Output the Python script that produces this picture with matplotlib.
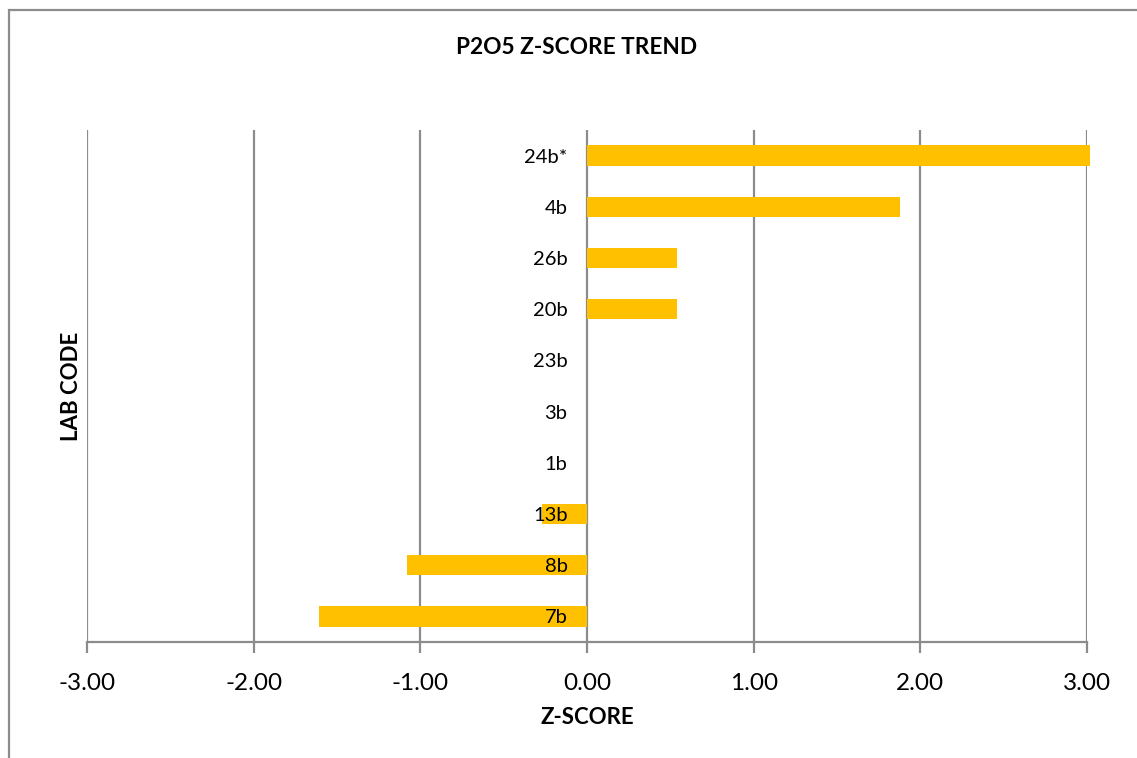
import matplotlib
matplotlib.use("Agg")
import matplotlib.pyplot as plt
from matplotlib.patches import Rectangle

labs = ["24b*", "4b", "26b", "20b", "23b", "3b", "1b", "13b", "8b", "7b"]
zscores = [3.02, 1.88, 0.54, 0.54, 0.0, 0.0, 0.0, -0.27, -1.08, -1.61]
xticks = [-3, -2, -1, 0, 1, 2, 3]

plt.rcParams['font.family'] = ['Lato', 'DejaVu Sans']

W, H = 1137, 758
fig = plt.figure(figsize=(W / 100, H / 100), dpi=100)
ax = fig.add_axes([87 / W, 1 - 642 / H, 1000 / W, 512 / H])

# outer chart border (cropped at right/bottom)
fig.patches.append(Rectangle((8.5 / W, -0.1), 1.2, 1 - 10.5 / H + 0.1,
                             transform=fig.transFigure, fill=False,
                             edgecolor='#8c8c8c', linewidth=1.6))

n = len(labs)
ypos = list(range(n))[::-1]
bars = ax.barh(ypos, zscores, height=0.4, color='#FFC000', zorder=2)
for b in bars:
    b.set_clip_on(False)

ax.set_xlim(-3, 3)
ax.set_ylim(-0.5, n - 0.5)
ax.set_xticks(xticks)
ax.set_xticklabels([f"{v:.2f}" for v in xticks])
ax.grid(axis='x', color='#8c8c8c', linewidth=1.6)
ax.tick_params(axis='x', length=8, width=1.6, color='#8c8c8c', pad=14,
               labelsize=17.5)
ax.xaxis.set_zorder(0.5)

ax.set_yticks(ypos)
ax.set_yticklabels(labs)
ax.spines['left'].set_position(('data', 0))
ax.spines['left'].set_visible(False)
ax.tick_params(axis='y', length=0, pad=14, labelsize=14.5)
ax.yaxis.set_zorder(4)

for s in ['top', 'right']:
    ax.spines[s].set_visible(False)
ax.spines['bottom'].set_color('#8c8c8c')
ax.spines['bottom'].set_linewidth(1.6)
ax.spines['bottom'].set_zorder(0.6)

fig.text(577 / W, 1 - 47 / H, "P2O5 Z-SCORE TREND", ha='center', va='center',
         fontsize=16.3, fontweight='bold')
fig.text(587 / W, 1 - 718 / H, "Z-SCORE", ha='center', va='center',
         fontsize=16, fontweight='bold')
fig.text(71 / W, 1 - 386 / H, "LAB CODE", ha='center', va='center',
         rotation=90, fontsize=16, fontweight='bold')

fig.savefig("out.png", dpi=100)
